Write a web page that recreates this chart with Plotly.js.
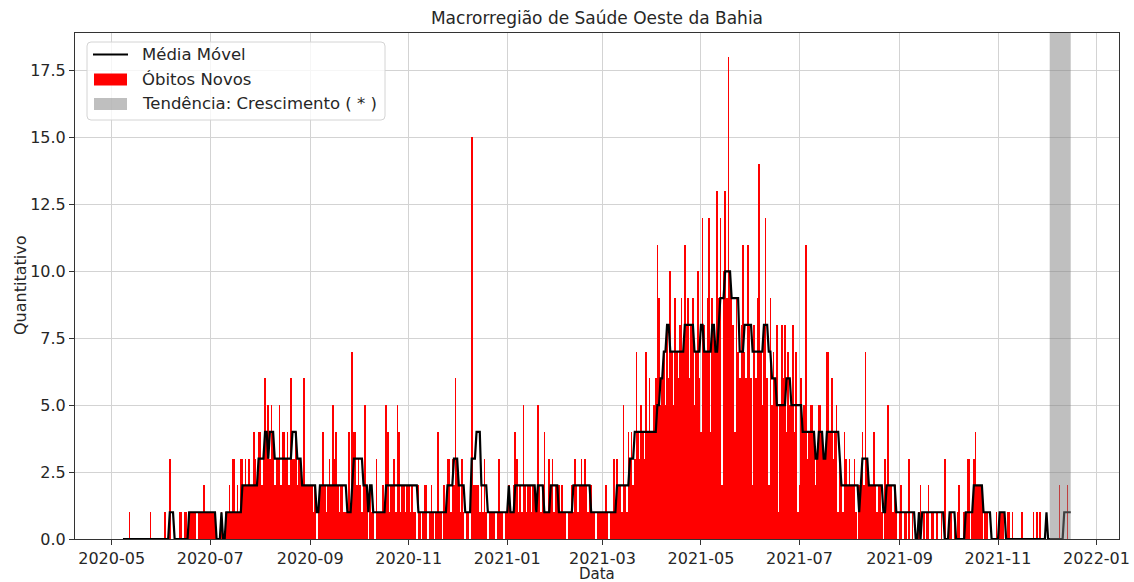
<!DOCTYPE html>
<html>
<head>
<meta charset="utf-8">
<script src="https://cdn.plot.ly/plotly-3.0.1.min.js"></script>
<style>
html,body{margin:0;padding:0;background:#fff;}
#chart{width:1134px;height:582px;}
</style>
</head>
<body>
<div id="chart"></div>
<script>
// ---- Daily new deaths (Óbitos Novos), one array per month ----
const obitos_2020_05 = [0,0,0,0,1,0,0,0,0,0,0,0,0,0,0,0,0,1,0,0,0,0,0,0]; // from 05-08
const obitos_2020_06 = [0,0,1,0,0,3,0,0,0,0,0,1,1,0,1,1,0,1,1,1,1,1,0,1,1,1,2,1,1,1];
const obitos_2020_07 = [1,1,1,1,0,0,0,1,0,0,1,1,2,1,3,3,1,2,1,3,3,2,3,2,3,2,2,4,3,2,4];
const obitos_2020_08 = [4,2,3,6,4,5,3,5,4,2,3,3,5,2,4,4,3,4,2,6,3,3,4,2,3,3,2,6,2,2,2];
const obitos_2020_09 = [2,2,1,2,0,1,2,2,4,2,1,2,3,2,5,3,4,2,1,2,2,1,1,1,4,1,7,4,4,2];
const obitos_2020_10 = [3,2,1,2,5,2,0,2,1,1,0,3,1,1,1,2,1,5,4,1,2,2,3,1,5,4,1,2,2,1,2];
const obitos_2020_11 = [2,1,2,1,1,0,2,1,0,1,2,2,0,1,2,1,0,1,4,1,1,0,2,1,3,3,1,3,2,6];
const obitos_2020_12 = [3,2,1,3,1,0,1,1,0,15,2,2,2,2,1,2,1,3,1,0,1,1,1,1,0,1,3,1,1,0,1];
const obitos_2021_01 = [1,2,1,1,2,4,3,1,2,1,5,2,1,2,2,1,2,2,1,5,2,1,2,4,1,1,3,2,3,1,2];
const obitos_2021_02 = [2,2,1,2,1,1,0,1,1,2,1,3,2,1,2,3,2,3,2,1,2,2,1,1,0,1,1,1];
const obitos_2021_03 = [1,1,2,1,0,1,1,3,1,3,2,2,1,5,2,1,4,3,4,2,3,7,4,3,5,4,3,7,4,6,4];
const obitos_2021_04 = [4,5,6,11,9,5,6,7,5,8,6,10,7,5,9,7,6,8,9,7,11,8,9,6,8,9,5,7,10,6];
const obitos_2021_05 = [4,12,8,7,9,12,4,9,8,7,13,9,12,2,10,13,9,18,10,9,8,4,9,7,6,8,11,7,6,11,8];
const obitos_2021_06 = [6,2,8,6,9,14,7,5,8,12,6,2,9,5,7,6,8,1,5,8,6,8,4,7,5,5,8,4,7,1];
const obitos_2021_07 = [2,6,4,5,11,3,4,5,5,4,2,3,5,5,4,3,3,7,7,4,6,3,4,5,1,3,2,1,4,3,2];
const obitos_2021_08 = [3,2,2,3,1,0,2,2,4,2,7,3,2,2,2,4,2,1,2,2,1,0,3,2,5,2,2,1,2,1,0];
const obitos_2021_09 = [1,2,0,1,1,0,3,0,1,0,0,0,1,2,0,1,0,1,2,0,1,1,0,1,0,0,1,0,3,0];
const obitos_2021_10 = [0,1,1,0,1,0,1,2,0,0,1,1,3,3,0,1,3,4,2,2,2,2,0,1,1,0,0,0,0,0,1];
const obitos_2021_11 = [0,1,1,1,0,0,1,1,0,1,0,0,0,0,0,1,0,0,0,0,0,0,1,0,1,0,1,0,0,0];
const obitos_2021_12 = [0,0,0,0,0,0,0,0,2,0,0,0,0,2,0,0]; // to 12-16

// ---- Moving average (Média Móvel), one array per month ----
const media_2020_05 = [0,0,0,0,0,0,0,0,0,0,0,0,0,0,0,0,0,0,0,0,0,0,0,0];
const media_2020_06 = [0,0,0,0,0,1,1,1,0,0,0,0,0,0,0,0,0,1,1,1,1,1,1,1,1,1,1,1,1,1];
const media_2020_07 = [1,1,1,1,0,0,0,1,0,0,1,1,1,1,1,1,1,1,1,1,2,2,2,2,2,2,2,2,2,2,3];
const media_2020_08 = [3,3,3,4,4,3,4,4,4,3,3,3,3,3,3,3,3,3,3,3,4,4,4,3,3,3,2,2,2,2,2];
const media_2020_09 = [2,2,2,2,1,1,2,2,2,2,2,2,2,2,2,2,2,2,2,2,2,2,2,1,1,1,2,3,3,3];
const media_2020_10 = [3,3,3,2,2,2,1,2,2,1,1,1,1,1,1,1,1,2,2,2,2,2,2,2,2,2,2,2,2,2,2];
const media_2020_11 = [2,2,2,2,2,2,1,1,1,1,1,1,1,1,1,1,1,1,1,1,1,1,1,1,2,2,2,2,3,3];
const media_2020_12 = [3,2,2,2,2,1,1,1,1,3,3,3,4,4,4,2,2,2,2,1,1,1,1,1,1,1,1,1,1,1,1];
const media_2021_01 = [1,2,1,1,1,2,2,2,2,2,2,2,2,2,2,2,2,2,1,2,2,2,2,1,1,1,1,2,2,2,2];
const media_2021_02 = [2,1,1,1,1,1,1,1,1,1,2,2,2,2,2,2,2,2,2,2,2,1,1,1,1,1,1,1];
const media_2021_03 = [1,1,1,1,1,1,1,1,1,2,2,2,2,2,2,2,2,3,3,3,4,4,4,4,4,4,4,4,4,4,4];
const media_2021_04 = [4,4,4,5,5,6,6,7,7,8,8,7,7,7,7,7,7,7,7,7,8,8,8,8,8,8,7,7,7,7];
const media_2021_05 = [8,8,7,7,7,7,7,8,8,7,7,8,9,9,9,10,10,10,10,9,9,9,9,9,7,7,7,8,8,8,8];
const media_2021_06 = [8,7,7,7,7,7,7,7,8,8,8,7,7,6,6,6,5,5,5,5,5,5,6,6,6,5,5,5,5,5];
const media_2021_07 = [5,5,4,4,4,4,4,4,4,4,3,3,4,4,4,3,3,4,4,4,4,4,4,4,4,3,2,2,2,2,2];
const media_2021_08 = [2,2,2,2,2,2,1,2,3,3,3,3,2,2,2,2,2,2,2,2,2,1,1,2,2,2,2,2,2,1,1];
const media_2021_09 = [1,1,1,1,1,1,1,1,1,1,0,0,1,0,1,1,1,1,1,1,1,1,1,1,1,1,1,1,0,0];
const media_2021_10 = [0,1,1,1,1,0,0,0,0,0,0,1,1,1,1,1,2,2,2,2,2,2,1,1,1,1,1,0,0,0,0];
const media_2021_11 = [0,1,1,1,1,0,0,0,0,0,0,0,0,0,0,0,0,0,0,0,0,0,0,0,0,0,0,0,0,0];
const media_2021_12 = [1,0,0,0,0,0,0,0,0,0,0,1,1,1,1,1];

// ---- Months and their first plotted day ----
const meses = ['2020-05','2020-06','2020-07','2020-08','2020-09','2020-10','2020-11','2020-12',
               '2021-01','2021-02','2021-03','2021-04','2021-05','2021-06','2021-07','2021-08',
               '2021-09','2021-10','2021-11','2021-12'];
const primeiroDia = [8,1,1,1,1,1,1,1,1,1,1,1,1,1,1,1,1,1,1,1];

// ---- Trend period ----
const tendenciaInicio = '2021-12-03';
const tendenciaFim = '2021-12-16';

// ---- Texts ----
const titulo = 'Macrorregião de Saúde Oeste da Bahia';
const rotuloX = 'Data';
const rotuloY = 'Quantitativo';
const legendaNomes = ['Média Móvel', 'Óbitos Novos', 'Tendência: Crescimento ( * )'];

// ---- Tick labels ----
const xTickVals = ['2020-05-01','2020-07-01','2020-09-01','2020-11-01','2021-01-01','2021-03-01',
                   '2021-05-01','2021-07-01','2021-09-01','2021-11-01','2022-01-01'];
const xTickText = ['2020-05','2020-07','2020-09','2020-11','2021-01','2021-03',
                   '2021-05','2021-07','2021-09','2021-11','2022-01'];
const yTickVals = [0,2.5,5,7.5,10,12.5,15,17.5];
const yTickText = ['0.0','2.5','5.0','7.5','10.0','12.5','15.0','17.5'];

const obitosMeses = [obitos_2020_05,obitos_2020_06,obitos_2020_07,obitos_2020_08,obitos_2020_09,
  obitos_2020_10,obitos_2020_11,obitos_2020_12,obitos_2021_01,obitos_2021_02,obitos_2021_03,
  obitos_2021_04,obitos_2021_05,obitos_2021_06,obitos_2021_07,obitos_2021_08,obitos_2021_09,
  obitos_2021_10,obitos_2021_11,obitos_2021_12];
const mediaMeses = [media_2020_05,media_2020_06,media_2020_07,media_2020_08,media_2020_09,
  media_2020_10,media_2020_11,media_2020_12,media_2021_01,media_2021_02,media_2021_03,
  media_2021_04,media_2021_05,media_2021_06,media_2021_07,media_2021_08,media_2021_09,
  media_2021_10,media_2021_11,media_2021_12];

const datas = [], obitos = [], media = [];
meses.forEach((m, k) => {
  obitosMeses[k].forEach((v, i) => {
    datas.push(m + '-' + String(primeiroDia[k] + i).padStart(2, '0'));
    obitos.push(v);
    media.push(mediaMeses[k][i]);
  });
});

// ---- Geometry (pixels) ----
const W = 1134, H = 582;
const PL = 75, PR = 1119, PT = 33, PB = 539;
const px = x => (x - PL) / (PR - PL);          // pixel x -> paper x
const py = y => (PB - y) / (PB - PT);          // pixel y -> paper y

const FONT = 'DejaVu Sans, Liberation Sans, sans-serif';
const TXT = '#262626';

const traces = [
  {
    type: 'bar', name: legendaNomes[1],
    x: datas, y: obitos,
    width: 1.0 * 86400000,
    marker: {color: '#ff0000', line: {width: 0, color: '#ff0000'}},
    hoverinfo: 'skip', showlegend: false
  },
  {
    type: 'scatter', mode: 'lines', name: legendaNomes[0],
    x: datas, y: media,
    line: {color: '#000000', width: 2.2},
    hoverinfo: 'skip', showlegend: false
  }
];

const axisCommon = {
  showline: true, mirror: true, linecolor: '#333333', linewidth: 1,
  ticks: 'outside', ticklen: 5, tickwidth: 1, tickcolor: '#333333',
  showgrid: true, gridcolor: '#d3d3d3', gridwidth: 1, zeroline: false,
  tickfont: {family: FONT, size: 16, color: TXT}
};

// rounded legend frame
function roundRect(x0, y0, x1, y1, r) {
  const X0 = px(x0), X1 = px(x1), Y0 = py(y0), Y1 = py(y1);
  const rx = r / (PR - PL), ry = r / (PB - PT);
  return `M${X0 + rx},${Y0} L${X1 - rx},${Y0} Q${X1},${Y0} ${X1},${Y0 - ry} ` +
         `L${X1},${Y1 + ry} Q${X1},${Y1} ${X1 - rx},${Y1} L${X0 + rx},${Y1} ` +
         `Q${X0},${Y1} ${X0},${Y1 + ry} L${X0},${Y0 - ry} Q${X0},${Y0} ${X0 + rx},${Y0} Z`;
}

const shapes = [
  {
    type: 'rect', xref: 'x', yref: 'paper',
    x0: tendenciaInicio, x1: tendenciaFim, y0: 0, y1: 1,
    fillcolor: 'rgba(128,128,128,0.5)', line: {width: 0}, layer: 'above'
  },
  // legend frame
  {
    type: 'path', xref: 'paper', yref: 'paper', layer: 'above',
    path: roundRect(87, 42, 385, 120, 4),
    fillcolor: 'rgba(255,255,255,0.8)', line: {color: '#d4d4d4', width: 1}
  },
  // legend keys
  {
    type: 'line', xref: 'paper', yref: 'paper', layer: 'above',
    x0: px(93), x1: px(128), y0: py(54.5), y1: py(54.5),
    line: {color: '#000000', width: 2.2}
  },
  {
    type: 'rect', xref: 'paper', yref: 'paper', layer: 'above',
    x0: px(94), x1: px(127), y0: py(73.5), y1: py(85.5),
    fillcolor: '#ff0000', line: {width: 0}
  },
  {
    type: 'rect', xref: 'paper', yref: 'paper', layer: 'above',
    x0: px(94), x1: px(127), y0: py(98), y1: py(110),
    fillcolor: 'rgba(128,128,128,0.5)', line: {width: 0}
  }
];

const legendY = [54.5, 79.5, 104];
const annotations = legendaNomes.map((t, i) => ({
  text: t, xref: 'paper', yref: 'paper',
  x: px(140), y: py(legendY[i]), xanchor: 'left', yanchor: 'middle',
  showarrow: false, font: {family: FONT, size: 16.5, color: TXT}
}));
annotations.push({
  text: rotuloX, xref: 'paper', yref: 'paper',
  x: 0.5, y: py(573.5), xanchor: 'center', yanchor: 'middle',
  showarrow: false, font: {family: FONT, size: 15, color: TXT}
});
annotations.push({
  text: rotuloY, xref: 'paper', yref: 'paper', textangle: -90,
  x: px(20), y: 0.5, xanchor: 'center', yanchor: 'middle',
  showarrow: false, font: {family: FONT, size: 16, color: TXT}
});

const layout = {
  width: W, height: H,
  margin: {l: PL, r: W - PR, t: PT, b: H - PB},
  paper_bgcolor: '#ffffff', plot_bgcolor: '#ffffff',
  font: {family: FONT, size: 16, color: TXT},
  title: {
    text: titulo,
    font: {family: FONT, size: 17, color: TXT},
    x: 0.5, xref: 'paper', y: 1 - 18/H, yref: 'container', yanchor: 'middle'
  },
  xaxis: Object.assign({}, axisCommon, {
    type: 'date',
    range: ['2020-04-08 07:00', '2022-01-14 22:00'],
    tickmode: 'array', tickvals: xTickVals, ticktext: xTickText
  }),
  yaxis: Object.assign({}, axisCommon, {
    range: [0, 18.9],
    tickmode: 'array', tickvals: yTickVals, ticktext: yTickText
  }),
  showlegend: false,
  shapes: shapes,
  annotations: annotations,
  bargap: 0
};

Plotly.newPlot('chart', traces, layout, {displayModeBar: false, staticPlot: true});
</script>
</body>
</html>
